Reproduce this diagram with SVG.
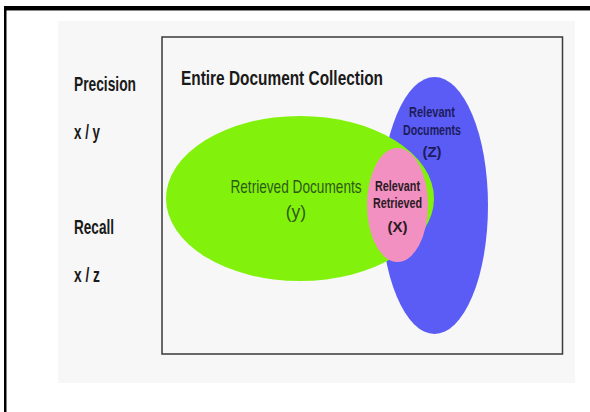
<svg xmlns="http://www.w3.org/2000/svg" width="590" height="412" viewBox="0 0 590 412">
<style>
.lbl{font-family:"Liberation Sans",Arial,sans-serif;font-weight:bold;fill:#1a1a1a;font-size:20.5px}
.in{font-family:"Liberation Sans",Arial,sans-serif;font-weight:bold;font-size:15px;text-anchor:middle}
.ret{font-family:"Liberation Sans",Arial,sans-serif;font-size:17.5px;fill:#2e5a14;text-anchor:middle}
</style>
<rect x="0" y="0" width="590" height="412" fill="#ffffff"/>
<g id="frame">
<rect x="4" y="6" width="586" height="4" fill="#000"/>
<rect x="4" y="10" width="586" height="1" fill="#888"/>
<rect x="4" y="6" width="2.5" height="406" fill="#000"/>
</g>
<g id="panel">
<rect x="58" y="21" width="517" height="362" fill="#f7f7f7"/>
</g>
<g id="collection">
<rect x="162" y="37" width="400.5" height="317" fill="none" stroke="#3a3a3a" stroke-width="1.5"/>
<text class="lbl" x="181" y="85" textLength="202" lengthAdjust="spacingAndGlyphs">Entire Document Collection</text>
</g>
<g id="measures">
<text class="lbl" x="74" y="91" textLength="62" lengthAdjust="spacingAndGlyphs">Precision</text>
<text class="lbl" x="74" y="139" textLength="26" lengthAdjust="spacingAndGlyphs">x / y</text>
<text class="lbl" x="74" y="234" textLength="40" lengthAdjust="spacingAndGlyphs">Recall</text>
<text class="lbl" x="74" y="282" textLength="26" lengthAdjust="spacingAndGlyphs">x / z</text>
</g>
<g id="relevant">
<ellipse cx="434.5" cy="205.5" rx="53.5" ry="128.5" fill="#5b5cf6"/>
</g>
<g id="retrieved">
<ellipse cx="300" cy="198.5" rx="134" ry="82.5" fill="#82f20c"/>
<text class="ret" transform="translate(296,193) scale(0.78,1)">Retrieved Documents</text>
<text class="ret" x="296" y="218">(y)</text>
</g>
<g id="relevant-labels">
<text class="in" x="432" y="117" fill="#1c1c5c" textLength="46" lengthAdjust="spacingAndGlyphs">Relevant</text>
<text class="in" x="432" y="135" fill="#1c1c5c" textLength="58" lengthAdjust="spacingAndGlyphs">Documents</text>
<text class="in" x="432" y="157" fill="#1c1c5c">(Z)</text>
</g>
<g id="relevant-retrieved">
<ellipse cx="397.5" cy="205" rx="30.5" ry="57" fill="#f290c2"/>
<text class="in" x="397.5" y="191" fill="#2a1a22" textLength="45" lengthAdjust="spacingAndGlyphs">Relevant</text>
<text class="in" x="397.5" y="208" fill="#2a1a22" textLength="49" lengthAdjust="spacingAndGlyphs">Retrieved</text>
<text class="in" x="397.5" y="232" fill="#2a1a22">(X)</text>
</g>
<g id="connectors"/>
</svg>
